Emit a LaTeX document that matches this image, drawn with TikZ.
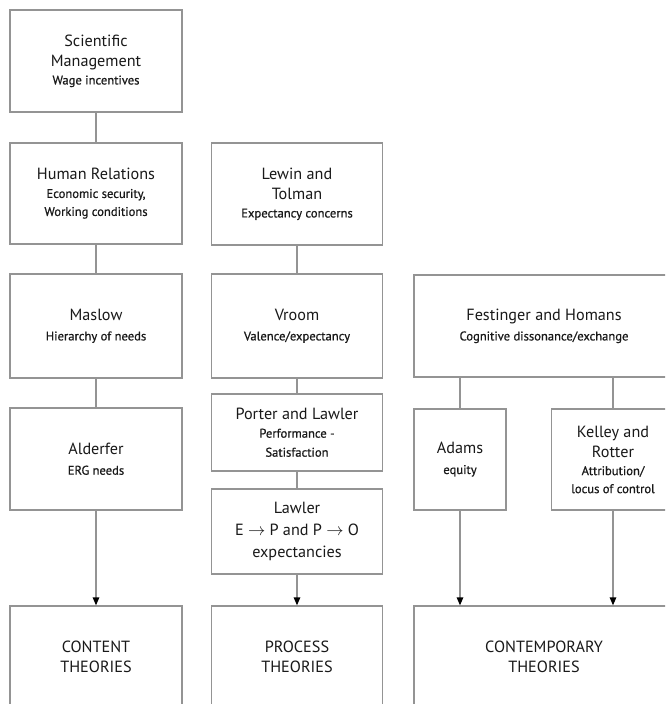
\documentclass[tikz,border=0pt]{standalone}
\usepackage{fontspec}
\setmainfont{PT Sans}
\newfontfamily\subfamily[FakeBold=0.7]{PT Sans}
\usetikzlibrary{arrows.meta}
\definecolor{rulegray}{gray}{0.58}
\definecolor{inkgray}{gray}{0.1}
\newcommand{\headfont}{\fontsize{16.2}{20}\selectfont}
\newcommand{\subfont}{\subfamily\fontsize{12.6}{17}\selectfont}
\begin{document}
\begin{tikzpicture}[x=1pt,y=-1pt,
  every node/.style={text=inkgray},
  box/.style={draw=rulegray, line width=1.3pt, fill=white, align=center,
    inner sep=0pt, font=\headfont},
  link/.style={draw=rulegray, line width=1.3pt},
  arrowlink/.style={link, -{Triangle[length=8pt,width=6.5pt,color=black]}}]
\useasboundingbox (0,0) rectangle (665,704);
\clip (0,0) rectangle (665,704);

% Content column
\node[box, minimum width=172pt, minimum height=102pt] (sm) at (96,61)
  {Scientific\\Management\\[-2pt]{\subfont Wage incentives}};
\node[box, minimum width=172pt, minimum height=101pt] (hr) at (96,193.5)
  {Human Relations\\[-2pt]{\subfont Economic security,}\\[-2pt]{\subfont Working conditions}};
\node[box, minimum width=172pt, minimum height=104pt] (ma) at (96,326)
  {Maslow\\[0pt]{\subfont Hierarchy of needs}};
\node[box, minimum width=172pt, minimum height=102pt] (al) at (96,459)
  {Alderfer\\[0pt]{\subfont ERG needs}};
\node[box, minimum width=172pt, minimum height=102pt] (ct) at (96,657)
  {CONTENT\\THEORIES};

% Process column
\node[box, minimum width=171pt, minimum height=102pt] (lt) at (297,194)
  {Lewin and\\Tolman\\[-2pt]{\subfont Expectancy concerns}};
\node[box, minimum width=171pt, minimum height=104pt] (vr) at (297,326)
  {Vroom\\[0pt]{\subfont Valence/expectancy}};
\node[box, minimum width=171pt, minimum height=77pt] (pl) at (297,432.5)
  {Porter and Lawler\\[-2pt]{\subfont Performance -}\\[-1pt]{\subfont Satisfaction}};
\node[box, minimum width=171pt, minimum height=85pt] (lw) at (297,531.5)
  {Lawler\\[2pt]E $\rightarrow$ P and P $\rightarrow$ O\\[2pt]expectancies};
\node[box, minimum width=171pt, minimum height=102pt] (pt) at (297,657)
  {PROCESS\\THEORIES};

% Contemporary column
\node[box, minimum width=260pt, minimum height=102pt] (fh) at (544,326)
  {Festinger and Homans\\[0pt]{\subfont Cognitive dissonance/exchange}};
\node[box, minimum width=92pt, minimum height=101pt] (ad) at (460,459.5)
  {Adams\\[0pt]{\subfont equity}};
\node[box, minimum width=123pt, minimum height=101pt] (kr) at (613,459.5)
  {Kelley and\\Rotter\\[-2pt]{\subfont Attribution/}\\[-2pt]{\subfont locus of control}};
\node[box, minimum width=260pt, minimum height=102pt] (cp) at (544,657)
  {CONTEMPORARY\\THEORIES};

% Connectors
\draw[link] (sm.south) -- (hr.north);
\draw[link] (hr.south) -- (ma.north);
\draw[link] (ma.south) -- (al.north);
\draw[arrowlink] (al.south) -- (ct.north);

\draw[link] (lt.south) -- (vr.north);
\draw[link] (vr.south) -- (pl.north);
\draw[link] (pl.south) -- (lw.north);
\draw[arrowlink] (lw.south) -- (pt.north);

\draw[link] (fh.south -| ad.north) -- (ad.north);
\draw[link] (fh.south -| kr.north) -- (kr.north);
\draw[arrowlink] (ad.south) -- (ad.south |- cp.north);
\draw[arrowlink] (kr.south) -- (kr.south |- cp.north);
\end{tikzpicture}
\end{document}
